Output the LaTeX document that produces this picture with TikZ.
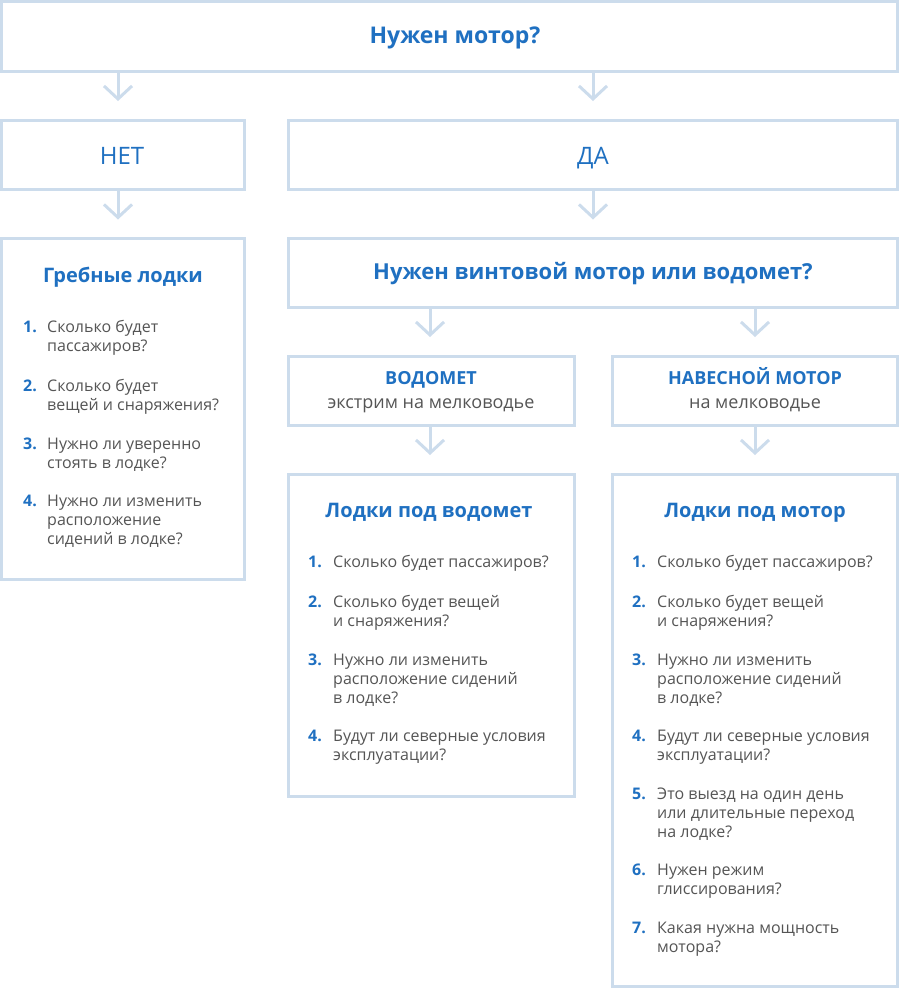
\documentclass[tikz,border=0pt]{standalone}
\usepackage{fontspec}
\setmainfont{Open Sans}
\usetikzlibrary{arrows.meta}
\definecolor{frame}{HTML}{CCDCEC}
\definecolor{bluetxt}{HTML}{1F70C1}
\definecolor{graytxt}{HTML}{555555}
\tikzset{
  box/.style={draw=frame, line width=3pt, outer sep=0pt, inner sep=0pt, fill=white},
  conn/.style={draw=frame, line width=3pt, -{Straight Barb[length=13pt,width=28pt]}, shorten >=19pt},
  head/.style={font=\fontsize{20}{24}\selectfont\bfseries, text=bluetxt, inner sep=0pt, anchor=base},
  bighead/.style={head, font=\fontsize{23}{27}\selectfont\bfseries},
  midhead/.style={head, font=\fontsize{22}{26}\selectfont\bfseries},
  yesno/.style={font=\fontsize{24}{28}\selectfont, text=bluetxt, inner sep=0pt, anchor=base},
  subhead/.style={font=\fontsize{18}{22}\selectfont\bfseries, text=bluetxt, inner sep=0pt, anchor=base},
  subtxt/.style={font=\fontsize{18}{22}\selectfont, text=graytxt, inner sep=0pt, anchor=base},
  qnum/.style={font=\fontsize{16}{19}\selectfont\bfseries, text=bluetxt, inner sep=0pt, anchor=base west},
  qtxt/.style={font=\fontsize{16}{19}\selectfont, text=graytxt, inner sep=0pt, anchor=base west},
}
\newcommand\mkbox[5]{\node[box, minimum width={#4-#2}, minimum height={#5-#3}] (#1) at ({(#2+#4)/2},{(#3+#5)/2}) {};}
\newcommand\qitem[6]{%
  \node[qnum] (#1n) at (#2,#4) {#5};
  \node[qtxt] (#1t) at (#3,#4) {\begin{tabular}[t]{@{}l@{}}#6\end{tabular}};}
\begin{document}
\begin{tikzpicture}[x=1pt,y=-1pt]
\useasboundingbox (0,0) rectangle (900,989);
% boxes
\mkbox{top}{1.5}{1.5}{897.5}{71.5}
\mkbox{net}{1.5}{120}{244}{189}
\mkbox{da}{288}{120}{897.5}{189}
\mkbox{row}{1.5}{238.5}{244}{579}
\mkbox{q}{288}{238.5}{897.5}{307}
\mkbox{jet}{288}{356}{574}{425.5}
\mkbox{out}{612}{356}{897.5}{425.5}
\mkbox{jetb}{288}{474}{574}{796}
\mkbox{outb}{612}{474}{897.5}{986}
% connector columns
\coordinate (cL) at (118,0);
\coordinate (cR) at (593,0);
\coordinate (cA) at (430,0);
\coordinate (cB) at (755,0);
\draw[conn] (top.south -| cL) -- (net.north -| cL);
\draw[conn] (top.south -| cR) -- (da.north -| cR);
\draw[conn] (net.south -| cL) -- (row.north -| cL);
\draw[conn] (da.south -| cR) -- (q.north -| cR);
\draw[conn] (q.south -| cA) -- (jet.north -| cA);
\draw[conn] (q.south -| cB) -- (out.north -| cB);
\draw[conn] (jet.south -| cA) -- (jetb.north -| cA);
\draw[conn] (out.south -| cB) -- (outb.north -| cB);
% texts
\node[bighead] (ttop) at (455,43) {Нужен мотор?};
\node[yesno] (tnet) at (122,164) {НЕТ};
\node[yesno] (tda) at (593,164) {ДА};
\node[head] (trow) at (123,282) {Гребные лодки};
\node[midhead] (tq) at (593,279) {Нужен винтовой мотор или водомет?};
\node[subhead] (tjet) at (431,384) {ВОДОМЕТ};
\node[subtxt] (tjet2) at (431,408) {экстрим на мелководье};
\node[subhead] (tout) at (755,384) {НАВЕСНОЙ МОТОР};
\node[subtxt] (tout2) at (755,408) {на мелководье};
\node[head] (tjetb) at (429,517) {Лодки под водомет};
\node[head] (toutb) at (755,517) {Лодки под мотор};
% rowing items
\qitem{g1}{23}{47}{332}{1.}{Сколько будет\\пассажиров?}
\qitem{g2}{23}{47}{391}{2.}{Сколько будет\\вещей и снаряжения?}
\qitem{g3}{23}{47}{449}{3.}{Нужно ли уверенно\\стоять в лодке?}
\qitem{g4}{23}{47}{506}{4.}{Нужно ли изменить\\расположение\\сидений в лодке?}
% jet items
\qitem{j1}{308}{333}{567}{1.}{Сколько будет пассажиров?}
\qitem{j2}{308}{333}{607}{2.}{Сколько будет вещей\\и снаряжения?}
\qitem{j3}{308}{333}{665}{3.}{Нужно ли изменить\\расположение сидений\\в лодке?}
\qitem{j4}{308}{333}{741}{4.}{Будут ли северные условия\\эксплуатации?}
% motor items
\qitem{m1}{632}{657}{567}{1.}{Сколько будет пассажиров?}
\qitem{m2}{632}{657}{607}{2.}{Сколько будет вещей\\и снаряжения?}
\qitem{m3}{632}{657}{665}{3.}{Нужно ли изменить\\расположение сидений\\в лодке?}
\qitem{m4}{632}{657}{741}{4.}{Будут ли северные условия\\эксплуатации?}
\qitem{m5}{632}{657}{799}{5.}{Это выезд на один день\\или длительные переход\\на лодке?}
\qitem{m6}{632}{657}{875}{6.}{Нужен режим\\глиссирования?}
\qitem{m7}{632}{657}{933}{7.}{Какая нужна мощность\\мотора?}
\end{tikzpicture}
\end{document}
